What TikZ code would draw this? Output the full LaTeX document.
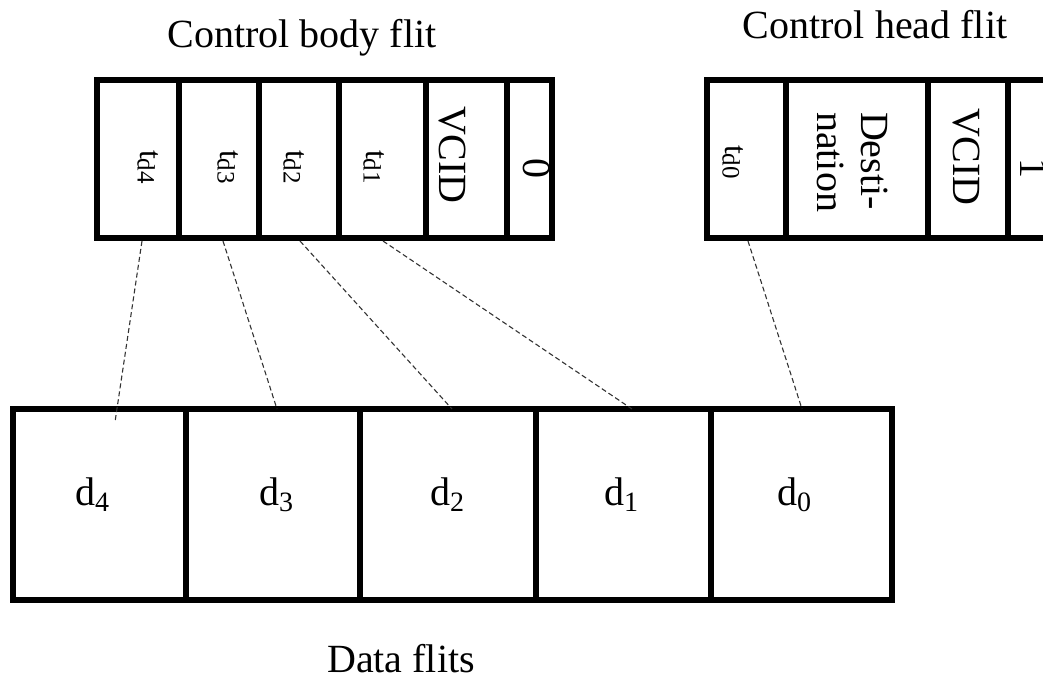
\documentclass[tikz,border=0pt]{standalone}
\usepackage{fontspec}
\setmainfont{Liberation Serif}
\usetikzlibrary{calc}
\newcommand{\tsub}[1]{t\raisebox{-3pt}{\fontsize{25}{25}\selectfont #1}}
\newcommand{\dsub}[1]{d\raisebox{-6pt}{\fontsize{28}{28}\selectfont #1}}
\begin{document}
\begin{tikzpicture}[x=1pt,y=-1pt,
  cell/.style={draw, line width=5.2pt, rectangle, inner sep=0pt, outer sep=0pt, anchor=north west},
  big/.style={font=\fontsize{40}{44}\selectfont, inner sep=0pt},
  vlab/.style={rotate=-90, inner sep=0pt, font=\fontsize{40}{44}\selectfont},
  tlab/.style={rotate=-90, inner sep=0pt, font=\fontsize{32}{32}\selectfont},
  conn/.style={line width=1.1pt, dash pattern=on 5pt off 3pt, black!80}]
\useasboundingbox (0,0) rectangle (1043,681);
% control body flit
\node[cell, minimum width=82pt, minimum height=158pt] (b4) at (97,80) {};
\node[cell, minimum width=80pt, minimum height=158pt] (b3) at (179,80) {};
\node[cell, minimum width=80pt, minimum height=158pt] (b2) at (259,80) {};
\node[cell, minimum width=87pt, minimum height=158pt] (b1) at (339,80) {};
\node[cell, minimum width=81pt, minimum height=158pt] (bv) at (426,80) {};
\node[cell, minimum width=45pt, minimum height=158pt] (b0) at (507,80) {};
% control head flit
\node[cell, minimum width=79pt, minimum height=158pt] (h0) at (707,80) {};
\node[cell, minimum width=142pt, minimum height=158pt] (hd) at (786,80) {};
\node[cell, minimum width=80pt, minimum height=158pt] (hv) at (928,80) {};
\node[cell, minimum width=70pt, minimum height=158pt] (h1) at (1008,80) {};
% data flits
\node[cell, minimum width=173pt, minimum height=191pt] (d4) at (13,409) {};
\node[cell, minimum width=174pt, minimum height=191pt] (d3) at (186,409) {};
\node[cell, minimum width=176pt, minimum height=191pt] (d2) at (360,409) {};
\node[cell, minimum width=175pt, minimum height=191pt] (d1) at (536,409) {};
\node[cell, minimum width=181pt, minimum height=191pt] (d0) at (711,409) {};
% rotated labels
\node[tlab] (lt4) at (148,167) {\tsub{d4}};
\node[tlab] (lt3) at (228,167) {\tsub{d3}};
\node[tlab] (lt2) at (294,167) {\tsub{d2}};
\node[tlab] (lt1) at (374,167) {\tsub{d1}};
\node[vlab] (lbv) at (452,155) {VCID};
\node[vlab] (lb0) at (537,168) {0};
\node[tlab] (lt0) at (733,162) {\tsub{d0}};
\node[vlab, align=left] (lhd) at (853,162) {Desti-\\nation};
\node[vlab] (lhv) at (966,157) {VCID};
\node[vlab] (lh1) at (1034,168) {1};
% data labels
\node[big, anchor=base] (ld4) at (92,505) {\dsub{4}};
\node[big, anchor=base] (ld3) at (276,505) {\dsub{3}};
\node[big, anchor=base] (ld2) at (447,505) {\dsub{2}};
\node[big, anchor=base] (ld1) at (621,505) {\dsub{1}};
\node[big, anchor=base] (ld0) at (794,505) {\dsub{0}};
% titles
\node[big, anchor=base] (tb) at (302,47) {Control body flit};
\node[big, anchor=base] (th) at (875,38) {Control head flit};
\node[big, anchor=base] (td) at (401,672) {Data flits};
% connectors
\draw[conn] ([xshift=45pt,yshift=-3pt]b4.south west) -- ([xshift=102pt,yshift=-13pt]d4.north west);
\draw[conn] ([xshift=44pt,yshift=-3pt]b3.south west) -- ([xshift=91pt]d3.north west);
\draw[conn] ([xshift=41pt,yshift=-3pt]b2.south west) -- ([xshift=92pt]d2.north west);
\draw[conn] ([xshift=44pt,yshift=-3pt]b1.south west) -- ([xshift=96pt]d1.north west);
\draw[conn] ([xshift=41pt,yshift=-3pt]h0.south west) -- ([xshift=91pt]d0.north west);
\end{tikzpicture}
\end{document}
